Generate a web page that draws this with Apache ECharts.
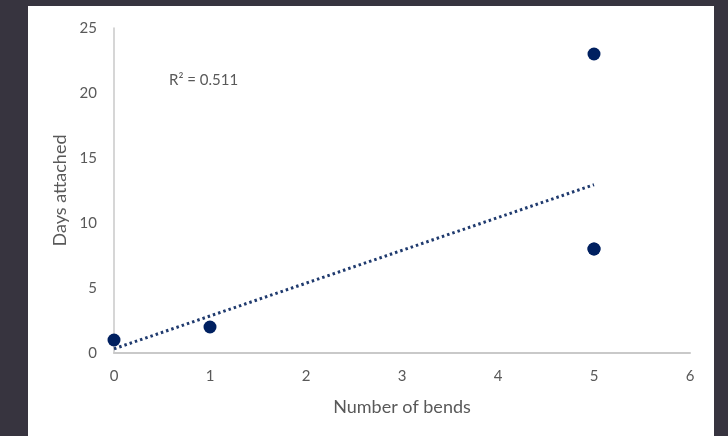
<!DOCTYPE html>
<html>
<head>
<meta charset="utf-8">
<script src="https://cdn.jsdelivr.net/npm/echarts@6/dist/echarts.min.js"></script>
<style>
html,body{margin:0;padding:0;background:#37343f;}
#c{width:728px;height:436px;}
</style>
</head>
<body>
<div id="c"></div>
<script>
// Data (one point at (5,8) appears to be duplicated — required for R² = 0.511)
const bends = [0, 1, 5, 5, 5];
const days = [1, 2, 23, 8, 8];
const xTicks = [0, 1, 2, 3, 4, 5, 6];
const yTicks = [0, 5, 10, 15, 20, 25];
const r2Label = 'R² = 0.511';

// Linear trendline (least squares) from the data
const n = bends.length;
const mx = bends.reduce((a, b) => a + b, 0) / n;
const my = days.reduce((a, b) => a + b, 0) / n;
let sxy = 0, sxx = 0;
for (let i = 0; i < n; i++) { sxy += (bends[i] - mx) * (days[i] - my); sxx += (bends[i] - mx) ** 2; }
const slope = sxy / sxx, intercept = my - slope * mx;
const xMin = Math.min(...bends), xMax = Math.max(...bends);
const trend = [[xMin, intercept + slope * xMin], [xMax, intercept + slope * xMax]];

const font = 'Lato, "Open Sans", sans-serif';
const chart = echarts.init(document.getElementById('c'), null, {renderer: 'canvas'});
chart.setOption({
  backgroundColor: '#37343f',
  animation: false,
  graphic: [
    {type: 'rect', z: -10, silent: true, shape: {x: 28, y: 6, width: 686, height: 440}, style: {fill: '#ffffff'}},
    {type: 'text', z: 10, left: 169, top: 73, style: {text: r2Label, fill: '#595959', font: '15px ' + font}}
  ],
  grid: {left: 114, right: 38, top: 28, bottom: 83},
  xAxis: {
    type: 'value', min: xTicks[0], max: xTicks[xTicks.length - 1], interval: 1,
    name: 'Number of bends', nameLocation: 'middle', nameGap: 45,
    nameTextStyle: {color: '#595959', fontSize: 18, fontFamily: font},
    axisLine: {show: true, lineStyle: {color: '#c9c9c9', width: 2}},
    axisTick: {show: false},
    splitLine: {show: false},
    axisLabel: {color: '#595959', fontSize: 15, fontFamily: font, margin: 16}
  },
  yAxis: {
    type: 'value', min: yTicks[0], max: yTicks[yTicks.length - 1], interval: 5,
    name: 'Days attached', nameLocation: 'middle', nameGap: 38,
    nameTextStyle: {color: '#595959', fontSize: 18, fontFamily: font},
    axisLine: {show: true, lineStyle: {color: '#c9c9c9', width: 1.5}},
    axisTick: {show: false},
    splitLine: {show: false},
    axisLabel: {color: '#595959', fontSize: 15, fontFamily: font, margin: 17}
  },
  series: [
    {
      type: 'line', data: trend, showSymbol: false, symbol: 'none', z: 3,
      lineStyle: {color: '#1f3a6e', width: 3, type: [2.5, 3], cap: 'butt'}
    },
    {
      type: 'scatter', data: bends.map((x, i) => [x, days[i]]), symbolSize: 13, z: 4,
      itemStyle: {color: '#002060', opacity: 1}
    }
  ]
});
</script>
</body>
</html>
